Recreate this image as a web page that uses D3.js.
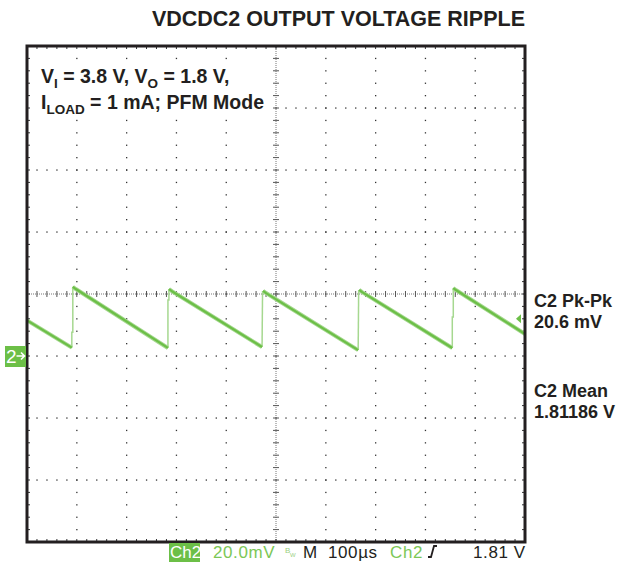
<!DOCTYPE html>
<html>
<head>
<meta charset="utf-8">
<script src="https://cdn.jsdelivr.net/npm/d3@7"></script>
<style>
  html, body { margin: 0; padding: 0; background: #ffffff; }
  svg { display: block; }
</style>
</head>
<body>
<svg id="scope" width="618" height="562"></svg>
<script>
// Ripple trace, read off the screen capture
// time in µs (100 µs/div), voltage in mV above the Ch2 reference marker (20 mV/div)
const riseTimes = [90, 283, 472, 665, 854];
const lowMv     = [2.7, 2.6, 2.9, 1.9, 2.6];   // just before each switching pulse
const stepMv    = [7.7, 18.1, null, null, 12.6]; // small kink on the rising edge
const peakMv    = [22.3, 21.6, 21.0, 21.3, 21.9];
const startMv = 11.5;
const endMv = 7.1;

const titleText = "VDCDC2 OUTPUT VOLTAGE RIPPLE";
const measLabels = ["C2 Pk-Pk", "20.6 mV", "C2 Mean", "1.81186 V"];
const triggerMv = 12;

const svg = d3.select("#scope");
const green = "#6cbf47";
const greenLight = "#a6d890";

// plot frame
const x = d3.scaleLinear().domain([0, 1000]).range([27, 525]);
const y = d3.scaleLinear().domain([-60, 100]).range([542, 46]);

const majorX = d3.range(0, 1001, 100);
const minorX = d3.range(0, 1001, 20);
const majorY = d3.range(-60, 101, 20);
const minorY = d3.range(-60, 101, 4);
const centerX = 500, centerY = 20;

const grid = svg.append("g");

// dotted graticule lines
majorX.filter(v => v > 0 && v < 1000 && v !== centerX).forEach(v => {
    grid.selectAll(null).data(minorY.slice(1, -1)).enter().append("rect")
        .attr("x", x(v) - 0.6).attr("y", d => y(d) - 0.6)
        .attr("width", 1.3).attr("height", 1.3).attr("fill", "#333");
});
majorY.filter(v => v > -60 && v < 100 && v !== centerY).forEach(v => {
    grid.selectAll(null).data(minorX.slice(1, -1)).enter().append("rect")
        .attr("x", d => x(d) - 0.6).attr("y", y(v) - 0.6)
        .attr("width", 1.3).attr("height", 1.3).attr("fill", "#333");
});

// centre cross with ticks
grid.append("line")
    .attr("x1", x(0)).attr("x2", x(1000)).attr("y1", y(centerY)).attr("y2", y(centerY))
    .attr("stroke", "#777").attr("stroke-width", 1).attr("stroke-dasharray", "1,1");
grid.append("line")
    .attr("x1", x(centerX)).attr("x2", x(centerX)).attr("y1", y(-60)).attr("y2", y(100))
    .attr("stroke", "#777").attr("stroke-width", 1).attr("stroke-dasharray", "1,1");
grid.selectAll(null).data(minorX.slice(1, -1)).enter().append("line")
    .attr("x1", d => x(d)).attr("x2", d => x(d))
    .attr("y1", y(centerY) - 3).attr("y2", y(centerY) + 3)
    .attr("stroke", "#555").attr("stroke-width", 1);
grid.selectAll(null).data(minorY.slice(1, -1)).enter().append("line")
    .attr("y1", d => y(d)).attr("y2", d => y(d))
    .attr("x1", x(centerX) - 3).attr("x2", x(centerX) + 3)
    .attr("stroke", "#555").attr("stroke-width", 1);

// edge ticks
grid.selectAll(null).data(minorX.slice(1, -1)).enter().append("line")
    .attr("x1", d => x(d)).attr("x2", d => x(d))
    .attr("y1", y(100)).attr("y2", y(100) + 3)
    .attr("stroke", "#333").attr("stroke-width", 1);
grid.selectAll(null).data(minorX.slice(1, -1)).enter().append("line")
    .attr("x1", d => x(d)).attr("x2", d => x(d))
    .attr("y1", y(-60)).attr("y2", y(-60) - 3)
    .attr("stroke", "#333").attr("stroke-width", 1);
grid.selectAll(null).data(minorY.slice(1, -1)).enter().append("line")
    .attr("y1", d => y(d)).attr("y2", d => y(d))
    .attr("x1", x(0)).attr("x2", x(0) + 3)
    .attr("stroke", "#333").attr("stroke-width", 1);
grid.selectAll(null).data(minorY.slice(1, -1)).enter().append("line")
    .attr("y1", d => y(d)).attr("y2", d => y(d))
    .attr("x1", x(1000)).attr("x2", x(1000) - 3)
    .attr("stroke", "#333").attr("stroke-width", 1);

// conditions text box
const cond = svg.append("g");
cond.append("rect").attr("x", 36).attr("y", 62).attr("width", 236).attr("height", 56).attr("fill", "#fff");
const t1 = cond.append("text").attr("x", 41).attr("y", 83)
    .attr("font-family", "Liberation Sans, Arial, sans-serif").attr("font-weight", "bold")
    .attr("font-size", 19.5).attr("fill", "#231f20");
t1.append("tspan").text("V");
t1.append("tspan").attr("font-size", 13.5).attr("dy", 5).text("I");
t1.append("tspan").attr("dy", -5).text(" = 3.8 V, V");
t1.append("tspan").attr("font-size", 13.5).attr("dy", 5).text("O");
t1.append("tspan").attr("dy", -5).text(" = 1.8 V,");
const t2 = cond.append("text").attr("x", 41).attr("y", 109)
    .attr("font-family", "Liberation Sans, Arial, sans-serif").attr("font-weight", "bold")
    .attr("font-size", 19.5).attr("fill", "#231f20");
t2.append("tspan").text("I");
t2.append("tspan").attr("font-size", 13.5).attr("dy", 5).text("LOAD");
t2.append("tspan").attr("dy", -5).text(" = 1 mA; PFM Mode");

// trace: slow discharge ramps (thick) and switching edges (thin)
const ramps = [];
ramps.push([[0, startMv], [riseTimes[0], lowMv[0]]]);
riseTimes.forEach((t, i) => {
    const next = i + 1 < riseTimes.length ? [riseTimes[i + 1], lowMv[i + 1]] : [1000, endMv];
    ramps.push([[t + 2, peakMv[i]], [t + 8, peakMv[i] - 0.7], next]);
});
const edges = riseTimes.map((t, i) => {
    const pts = [[t, lowMv[i]]];
    if (stepMv[i] !== null) { pts.push([t, stepMv[i]]); pts.push([t + 2, stepMv[i]]); pts.push([t + 2, peakMv[i]]); }
    else { pts.push([t + 1, peakMv[i]]); }
    return pts;
});

const line = d3.line().x(d => x(d[0])).y(d => y(d[1]));
const trace = svg.append("g");
trace.selectAll(null).data(edges).enter().append("path")
    .attr("d", line).attr("fill", "none").attr("stroke", greenLight).attr("stroke-width", 1.5);
trace.selectAll(null).data(ramps).enter().append("path")
    .attr("d", line).attr("fill", "none").attr("stroke", greenLight).attr("stroke-width", 4)
    .attr("stroke-linejoin", "round");
trace.selectAll(null).data(ramps).enter().append("path")
    .attr("d", line).attr("fill", "none").attr("stroke", green).attr("stroke-width", 2.2)
    .attr("stroke-linejoin", "round");

// frame
svg.append("path")
    .attr("d", `M${x(0)},${y(100)} H${x(1000)} V${y(-60)} H${x(0)} Z`)
    .attr("fill", "none").attr("stroke", "#231f20").attr("stroke-width", 3);

// trigger level arrow
svg.append("path")
    .attr("d", `M${x(1000) - 9},${y(triggerMv)} l5,-4.5 v9 Z`)
    .attr("fill", green);

// channel 2 reference marker
const mk = svg.append("g");
mk.append("rect").attr("x", 5).attr("y", y(0) - 10).attr("width", 21).attr("height", 21).attr("fill", green);
mk.append("text").attr("x", 6).attr("y", y(0) + 7)
    .attr("font-family", "Liberation Sans Narrow, Liberation Sans, sans-serif")
    .attr("font-size", 19).attr("fill", "#fff").text("2");
mk.append("path").attr("d", `M16.5,${y(0)} h8 M21,${y(0) - 3.5} l3.5,3.5 l-3.5,3.5`)
    .attr("stroke", "#fff").attr("stroke-width", 1.6).attr("fill", "none");

// title
svg.append("text").attr("x", 525).attr("y", 26).attr("text-anchor", "end")
    .attr("font-family", "Liberation Sans, Arial, sans-serif").attr("font-weight", "bold")
    .attr("font-size", 21.5).attr("fill", "#231f20").text(titleText);

// measurements at right
const measY = [307, 328, 397, 418];
svg.selectAll(null).data(measLabels).enter().append("text")
    .attr("x", 534).attr("y", (d, i) => measY[i])
    .attr("font-family", "Liberation Sans, Arial, sans-serif").attr("font-weight", "bold")
    .attr("font-size", 18).attr("fill", "#231f20").text(d => d);

// scope status bar
const sb = svg.append("g")
    .attr("font-family", "Liberation Sans Narrow, Liberation Sans, sans-serif")
    .attr("font-size", 17);
sb.append("rect").attr("x", 169).attr("y", 543).attr("width", 31).attr("height", 19).attr("fill", green);
sb.append("text").attr("x", 170).attr("y", 558).attr("fill", "#fff").text("Ch2");
sb.append("text").attr("x", 213).attr("y", 558).attr("fill", "#7cc756").attr("letter-spacing", 0.6).text("20.0mV");
sb.append("text").attr("x", 285).attr("y", 553).attr("font-size", 8).attr("fill", "#9ad07f").text("B");
sb.append("text").attr("x", 290).attr("y", 557).attr("font-size", 6).attr("fill", "#9ad07f").text("W");
sb.append("text").attr("x", 303).attr("y", 558).attr("fill", "#231f20").text("M");
sb.append("text").attr("x", 328).attr("y", 558).attr("fill", "#231f20").attr("letter-spacing", 0.6).text("100µs");
sb.append("text").attr("x", 390).attr("y", 558).attr("fill", "#7cc756").attr("letter-spacing", 0.6).text("Ch2");
sb.append("path").attr("d", "M428,557 h3 l3,-11 h3")
    .attr("stroke", "#231f20").attr("stroke-width", 1.8).attr("fill", "none");
sb.append("text").attr("x", 473).attr("y", 558).attr("fill", "#231f20").attr("letter-spacing", 0.6).text("1.81 V");
</script>
</body>
</html>
